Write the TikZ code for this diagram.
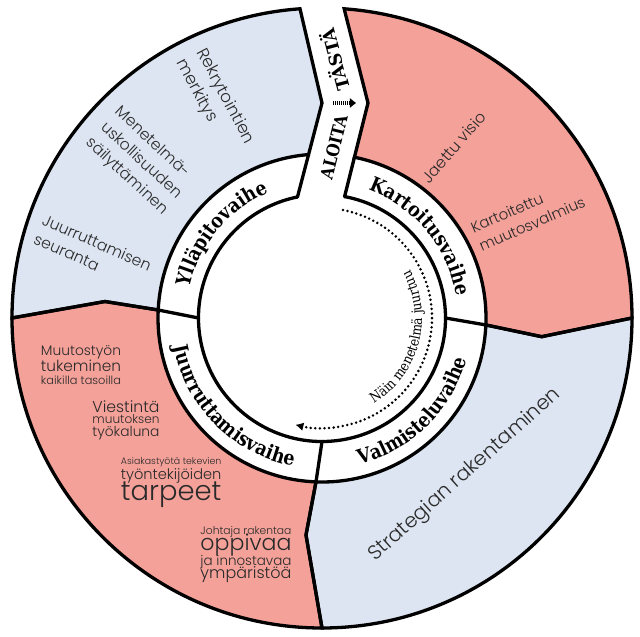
\documentclass[tikz,border=0pt]{standalone}
\usepackage{fontspec}
\usepackage{graphicx}
\setmainfont{DejaVu Serif}
\newfontfamily\narrowserif{DejaVu Serif}[FakeStretch=0.875]
\newfontfamily\sansf{Poppins}[UprightFont=* Light]
\usetikzlibrary{decorations.text,arrows.meta}
\definecolor{salmon}{HTML}{F4A199}
\definecolor{paleblue}{HTML}{DDE5F2}
\definecolor{ink}{HTML}{2A2A2A}
\newcommand\txtblock[2]{\resizebox{#1}{!}{\begin{tabular}{@{}l@{}}#2\end{tabular}}}
\newcommand\fitline[2]{\resizebox{#1}{!}{#2}}
\newcommand\phasefont{\narrowserif\fontsize{20}{22}\selectfont\bfseries}
\newcommand\pathTL{(L0) arc[start angle=94.07,end angle=180,radius=310] -- (C1) -- (177.2:164) arc[start angle=177.2,end angle=94.70,radius=164] -- (L1) -- cycle}
\newcommand\pathTR{(R0) arc[start angle=85.9,end angle=0,radius=310] -- (C2) -- (-2.43:164) arc[start angle=-2.43,end angle=78.59,radius=164] -- (R1) -- cycle}
\newcommand\pathBR{(0:310) -- (C2) -- (-2.43:164) arc[start angle=-2.43,end angle=-92.1,radius=164] -- (C3) -- (-90:310) arc[start angle=-90,end angle=0,radius=310] -- cycle}
\newcommand\pathBL{(180:310) -- (C1) -- (177.2:164) arc[start angle=177.2,end angle=267.9,radius=164] -- (C3) -- (270:310) arc[start angle=270,end angle=180,radius=310] -- cycle}
\tikzset{
  sector/.style={draw=black, line width=3.3pt, line join=miter},
  ring/.style={draw=black, line width=3.3pt, line cap=round},
  body/.style={font=\sansf\fontsize{10}{13.5}\selectfont, text=ink, inner sep=0pt},
  caps/.style={font=\fontsize{17.5}{18}\selectfont\bfseries, inner sep=0pt},
  phase/.style={decorate, decoration={text along path, text color=black, text align=center, text={|\phasefont|#1}}},
}
\begin{document}
\begin{tikzpicture}[x=1pt,y=1pt]
\useasboundingbox (-322,-319) rectangle (318,318);
\coordinate (L0) at (94.07:310);
\coordinate (L1) at (0,215);
\coordinate (Lb) at (94.70:164);
\coordinate (Li) at (101.45:123.5);
\coordinate (R0) at (85.9:310);
\coordinate (R1) at (46,215);
\coordinate (Rb) at (78.59:164);
\coordinate (Ri) at (79.45:123.5);
\coordinate (C1) at (-217,16.5);
\coordinate (C2) at (219.7,-18.7);
\coordinate (C3) at (-16,-217);
% fills
\fill[paleblue] \pathTL;
\fill[salmon] \pathTR;
\fill[paleblue] \pathBR;
\fill[salmon] \pathBL;
% outlines
\draw[sector] \pathTL;
\draw[sector] \pathTR;
\draw[sector] \pathBR;
\draw[sector] \pathBL;
% ring
\draw[ring] (Li) arc[start angle=101.45,end angle=439.45,radius=123.5];
\draw[ring] (Lb) -- (Li);
\draw[ring] (Rb) -- (Ri);
\draw[ring] (177.2:164) -- (180:123.5);
\draw[ring] (-2.43:164) -- (0:123.5);
\draw[ring] (-92.1:164) -- (-90:123.5);
% dotted arrow
\draw[line width=2.8pt, dash pattern=on 0pt off 4.6pt, line cap=round, -{Latex[length=8pt,width=8.5pt]}] (79:110) arc[start angle=79,end angle=-104,radius=110];
\path[decorate, decoration={text along path, text color=black, text align=center, text={|\narrowserif\fontsize{14}{15}\selectfont|Näin menetelmä juurtuu}}] (-75:100) arc[start angle=-75,end angle=45,radius=100];
% phase labels
\path[phase=Kartoitusvaihe] (89.6:136) arc[start angle=89.6,end angle=-10.4,radius=136];
\path[phase=Ylläpitovaihe] (190:136) arc[start angle=190,end angle=90,radius=136];
\path[phase=Valmisteluvaihe] (-95.8:151) arc[start angle=-95.8,end angle=4.2,radius=151];
\path[phase=Juurruttamisvaihe] (175:151) arc[start angle=175,end angle=275,radius=151];
% start marker
\node[caps, font=\narrowserif\fontsize{17.5}{18}\selectfont\bfseries, rotate=76] (aloita) at (12,171) {ALOITA};
\node[caps, rotate=104.9] (tasta) at (12,258) {TÄSTÄ};
\coordinate (a0) at (11,215);
\coordinate (a1) at (34,215);
\draw[line width=4pt, dash pattern=on 1pt off 1pt, -{Triangle[length=6pt,width=9pt]}] (a0) -- (a1);
% top-left texts
\node[body, rotate=-62] (rekry) at (-106.7,216.3) {\txtblock{105pt}{Rekrytointien\\merkitys}};
\node[body, rotate=-43] (menet) at (-180.5,157) {\txtblock{105pt}{Menetelmä-\\uskollisuuden\\säilyttäminen}};
\node[body, rotate=-23.7] (juurr) at (-229.8,64.6) {\txtblock{117pt}{Juurruttamisen\\seuranta}};
% top-right texts
\node[body, rotate=49] (visio) at (132,171) {\fitline{88pt}{Jaettu visio}};
\node[body, rotate=23.7] (kart) at (206.6,102) {\txtblock{114pt}{Kartoitettu\\muutosvalmius}};
% bottom-right text
\node[body, rotate=41.7] (strat) at (143,-157) {\fitline{249pt}{Strategian rakentaminen}};
% bottom-left texts
\node[body, anchor=base] (g1a) at (-241,-37.7) {\fitline{80pt}{Muutostyön}};
\node[body, anchor=base] (g1b) at (-241,-53) {\fitline{80pt}{tukeminen}};
\node[body, anchor=base] (g1c) at (-241,-66.3) {\fitline{80pt}{kaikilla tasoilla}};
\node[body, anchor=base] (g2a) at (-196,-94.3) {\fitline{67pt}{Viestintä}};
\node[body, anchor=base] (g2b) at (-196,-105.3) {\fitline{67pt}{muutoksen}};
\node[body, anchor=base] (g2c) at (-196,-118) {\fitline{67pt}{työkaluna}};
\node[body, anchor=base] (g3a) at (-150.8,-146.3) {\fitline{100.5pt}{Asiakastyötä tekevien}};
\node[body, anchor=base] (g3b) at (-150.8,-161) {\fitline{100.5pt}{työntekijöiden}};
\node[body, anchor=base] (g3c) at (-150.8,-182) {\fitline{100.5pt}{tarpeet}};
\node[body, anchor=base] (g4a) at (-76,-216) {\fitline{91pt}{Johtaja rakentaa}};
\node[body, anchor=base] (g4b) at (-76,-232) {\fitline{91pt}{oppivaa}};
\node[body, anchor=base] (g4c) at (-76,-247) {\fitline{91pt}{ja innostavaa}};
\node[body, anchor=base] (g4d) at (-76,-260.3) {\fitline{91pt}{ympäristöä}};
\end{tikzpicture}
\end{document}
